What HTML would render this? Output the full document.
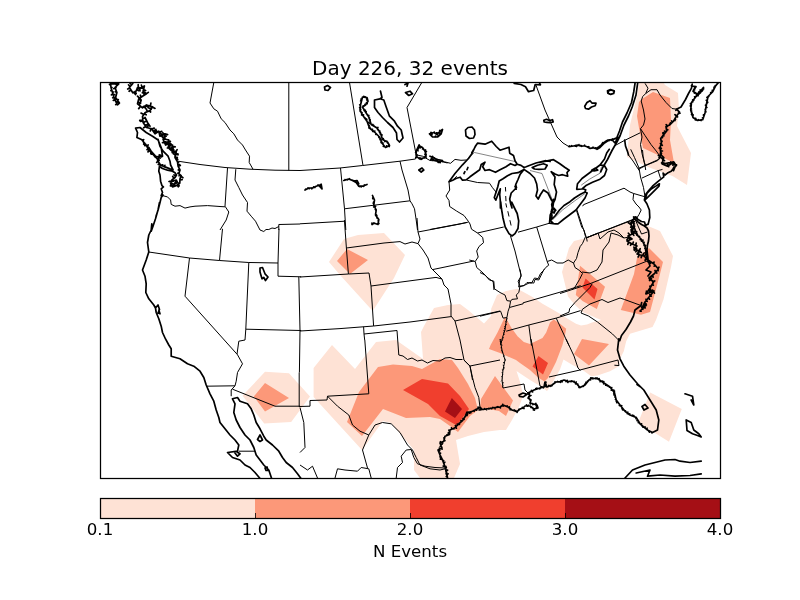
<!DOCTYPE html>
<html><head><meta charset="utf-8"><title>Day 226, 32 events</title>
<style>html,body{margin:0;padding:0;background:#fff}svg{display:block}</style></head>
<body>
<svg width="800" height="600" viewBox="0 0 800 600">
<defs><clipPath id="ax"><rect x="100.5" y="82.5" width="620" height="396"/></clipPath></defs>
<rect width="800" height="600" fill="#fff"/>
<g clip-path="url(#ax)">
<path fill="#fee2d5" d="M637,96 639,83 641,76 660,76 665,85 678,93 679,110 677,126 691,153 687,185 672.5,176 648,167 627,157 630,125Z M329,262 344,239 358,235 384,233 405,255 394,278 372.7,311 340,275Z M242.5,395.8 265,371.8 289,373.2 310,396.5 291.2,422 264.2,423.5Z M650.2,392.5 681.8,409 669,441.7 638.2,422.5Z M313.6,368 332,345 355,369 376,342 396,340 423,359 421,332 424,326 434,308 448,305 460,304 468,310 484,323.5 491,316 491.2,308.8 497,295 506,291 517.5,288.8 532.5,297 542.5,303.8 560,313.8 568,319 576,323.8 581,325.6 587,324.5 592,322.5 601,320 582.5,312 575,305 568,296.5 562,272 569,248 574,241 586,238 610,229 634,219 648,226 660,231 673,256 671,267 663.5,299.5 656,320 652.5,327 630,333.8 626.2,341.2 623.8,351.2 620,358.8 618.8,366.2 610,371.2 597.5,375.6 591.2,376.2 584,371 572.5,365 563.5,359.5 560,369.5 554,380 550,387 547,391 540,386 530,380 516.5,371 521,385 523,396 519,407 512,420 506,430 500,430 484,432 468,436 456,440 460,464 454,478 454,484 420,484 420,478 414,470 414,450 391,423 383,421 362,450 313.6,397Z"/>
<path fill="#fc9879" d="M642,99 653,92 670,98 671,120 670,140 674,163 660,156 643,148 639,128 637,116 639,102Z M337,261 347,249 368,260 350,274Z M253.8,396.5 265,383 289,398 265,411.5Z M575.8,295 580,265.8 590,274 605,286.8 596.8,309 582.5,301Z M649,248 663,262 660,274 650,312 641,314.8 620.8,310 634,274 637,258Z M574,354 582,339 609,344 589,365.6Z M505,317.5 507,320 511.2,327.5 517.5,336.2 523.8,342 530,344 542.5,338 546.2,332.5 550,322.5 553.8,319.4 560,323.8 566.2,328.8 565,335 562.5,345 556,362 552,370 548,378 544.5,381.5 538,377.5 530,370 520,363 516,360 500,353 489,349 490.6,345 497.5,332.5 504.4,318Z M495,376 513,400.5 506,416 499,411 488,409 480,408 481,399Z M378,367 393,364.4 412,366 422,369 440,359 452,360 458,368 468,384 475,398 478,410 470,416 458,432 450,426 440,419 430,417 406,418 383,409 362,436 347,422 359,392Z"/>
<path fill="#f03f2e" d="M403,390 422,379 448,383.5 460,396 469,409 457,425.5 440,416 428,404Z M582.5,287.5 585.5,278.5 597.5,289 594.5,299.5Z M532.5,366.5 538.5,356 548,363 543,374.5Z"/>
<path fill="#a50f15" d="M445,411.5 451.8,398 462,409 455,418Z"/>
<path fill="none" stroke="#333" stroke-width="0.6" d="M159.4,165.6 173.1,170.2 M466.2,160 474.5,152.5 515,161.5 M530,170.5 542,173.5 552.5,200.5 553.4,203.5 M552.7,219.7 562.5,210 574.5,201 585,193.5 M581.2,185.2 589.5,179.2 600,173.2 601.5,166.5"/>
<path fill="none" stroke="#000" stroke-width="1.0" stroke-linejoin="round" d="M178,161.2 200,164.5 225,167.5 250,169.2 275,170.2 300,170.5 M213.8,82.5 210,103 213.8,108.8 217.5,111.2 221.2,118.8 225,122.5 230,130 233.8,133.8 237.5,140 242.5,145 245.5,150 249.5,156.2 249.2,162.5 253,169.2 M288.8,82.5 288.8,170.5 M227.5,168 225,206.2 228.8,212 226.2,220 220,230 M162.5,195.6 167.5,196.9 170.6,200 171.2,204.4 175,206.2 180,205.6 185,208.1 190,206.9 195,206.2 207.5,205.6 220,206.5 M235.8,169.2 235,180 238.8,187.5 242.5,195 247.5,202.5 247,211.2 251.2,216.2 255.5,221.2 260,230 M278.8,230 278.8,224.5 300,224 M300,170.5 340,168 362.5,165.5 400,161.2 415.5,159 M349.5,82.5 363,165.5 M421.8,82.5 407,107.5 416.2,155 M415.5,159 417,155 422.5,156.2 430,160.5 440,161.2 447.5,163 M340.5,168 344.5,208.8 345.8,230 M300,223.8 345,221.2 M344.5,208.8 410,200.8 M400,161.2 402,170 405,180 408,190 410,200.8 412,203.8 414.5,208.8 416.2,220 417.5,230 M430,229.5 467,222.5 M452.7,180.2 456.8,176.2 M505.4,187 505.7,191.5 M505.7,196 506,201.2 M467,180.2 477.5,182.5 489.5,183.2 492.5,187.7 496.2,192.2 M449,181.7 449.7,190 446,196 449,200.5 449.7,206.5 456.5,211 464,215.5 468.5,221.5 M439.3,160.7 444.5,161.8 450.5,163.3 455,159.4 461,160.3 466.2,160 M219.5,206.5 225,206.8 M536,85.2 545,110 551,123.5 557,137 563,143 569,146.7 M645,83.3 648,88.2 645.7,93.5 642.7,96.5 641.2,101 643.5,110 645,119 643.5,125 640.5,128.7 M645.7,93.5 651,89.7 657,89.7 660,95 666,102.5 672,108.5 676.5,109.2 M640.5,128.7 645,135.5 651,144.5 657,152 660,156.5 M640.5,128.7 642,137 640.5,144.5 642,153.5 645,165.5 645.7,170 M614.2,146 624,140.7 640.2,132.8 M628.5,155 633,161 639.3,170.7 M638.2,168.5 657,160.2 660,158 M582.7,206.2 583.5,204.7 624,188.2 630,192 633.7,193.5 M576.7,209.2 583.5,229.5 586.5,237.7 587.2,241.5 M586.5,237.7 637.5,218.2 M633.7,193.5 633,199.5 636,204 639,207 641.2,210 639,214.5 636.7,218.2 637.5,222 M633.7,193.5 645,196.8 M645,196.8 643.5,187.5 640.5,177 639,168 634.5,157.5 630.7,149.3 M642.5,150 643.1,156.2 644.4,162.5 645.6,165.6 M639.4,168.8 645.6,165.6 657.5,160.6 661.5,156.9 M641.9,178.1 658.1,170.6 662.5,169.4 M658.1,170.6 660.6,178.5 M148.8,252 189.5,258 219.5,260.5 248.8,262.5 278,263 M189.5,258 185,296.2 237,354.2 M222.5,228.8 219.5,260.5 M248.8,262.5 245.8,329.2 245,340 238.8,341.2 237,354.2 M279,228.8 278,263 278,276.2 301.2,276.8 M245.8,329.2 301.2,330.5 M298.8,276.8 300,330.5 M344.4,220 346.4,248 348.4,274 M346.4,248 384,243 400,241.6 405,244 412,242 418,243.6 M300,277 348.4,274 369,273 371,286 373.6,326 M371,286 436,277.4 442,279 M417,218 418,232 420,239 418,243.6 423,250 428,258 431,268 436,273 442,279 444,285 448,289 451,304 451,316 455,321 460,340 464,360 470,366 472.5,380 M418,232 460,224 468.5,222 M433,269.5 473.8,261 M300,331 340,328.6 373.6,326 410,322 451,316.6 M363.6,326.8 364,334 397,330.5 398.8,355 403,356 407.5,359.5 412,358 417.5,361 422,360 427.5,363 433,360.5 440,361 445,358 450,357.5 456,359.5 462.5,359.5 M364,334 364.7,340 M455,321 500,311 M470,366 500,360 M505.8,203.3 506.7,207.5 M507.8,211.2 509,216.5 M509.9,220.2 511.1,225.5 M477.5,233 503.7,227 M510.5,236 515,251 518.7,266 521,275 519.5,281 518.7,287 M518,232.2 536.7,227 549.5,223.2 M536.7,227 547.2,261.5 M518.7,287 524,285.5 527,282.5 531.5,283.2 534.5,278 538.2,278.7 540.5,273.5 543.5,270.5 545.7,267.5 548.7,265.2 547.2,261.5 551.7,260 557,263 563,263 568.2,260 573.5,263 576.5,258.5 578,252.5 580.2,246.5 582.5,243.5 585.5,236.7 584,230 581.7,227 M576.5,210.5 581.7,227 M470,224 471.5,229.2 477.5,233 482.7,237.5 483.5,242.7 479,246.5 476.7,251 478.2,257 475.2,261.5 476.7,267.5 482,272 488,278 493.2,281.7 494,290 M469.3,260 475.2,261.5 M573.5,263 575,267.5 579.5,270.5 582.5,273.5 579.5,279.5 575,287 572,290 M480,272.5 485,275 489.4,280 493.8,281.2 494.4,288.8 500,292.5 505,295 506.9,300.6 510.6,301.2 509.4,307.5 508.1,311.2 506.9,317.5 M506.9,317.5 505.6,325 505,330 502.5,337.5 500.6,345 M506.8,318.2L507.6,318.9 M506.4,320.4L507.2,321.1 M506.1,322.3L505.5,321.4 M505.7,324.8L506.8,324.6 M505.3,327.2L504.1,326.6 M505.1,329.0L504.0,328.2 M504.8,330.6L503.3,330.8 M504.0,333.0L503.0,333.0 M503.5,334.4L504.5,334.5 M502.5,337.4L503.9,337.9 M502.2,338.9L503.1,339.3 M501.9,339.9L502.7,340.4 M501.4,341.9L500.4,341.2 M500.9,343.8L500.3,343.4 M520,269.4 521.2,276.2 518.1,281.2 520,286.2 518.8,292.5 516.2,295 517.5,298.8 511.9,299.4 510.6,301.2 M520,286.2 523.8,285.6 530,282.5 533.8,283.1 535,279.4 538.8,280 541.2,275 544,269.4 M509.4,307.5 523.1,303.8 523.1,302.8 567.5,290 575,287.5 580.6,285.6 M506.2,331.2 528.8,325 556.2,318.1 580.6,310.6 M480,316.2 500.6,311.2 503.1,318.1 506.9,317.5 M528.8,325 531.5,345.6 M556.2,318.1 569,345.6 M560,293.5 590,283.7 648.5,260.5 M560,316 569,312.2 569.7,308.5 575,302.5 582.5,295 590,287.5 592.2,283.7 M582.5,309.2 590,304 602,299.5 608,302.5 620,298 624.5,299.5 641,305.5 M582.5,309.2 581,313 588.5,316 597.5,322 605,328 612.5,334 618.8,340.3 M586,238 634,219 M586,238 598,233 600,239 608,232 614,230 619,233 624,238 629,237 M624,238 618,235 611,233 609,242 603,250 602,262 597,270 590,273 585,272.4 582,272 M635,219 641.5,234 647.5,232 M206.2,386.2 235,385.8 231.2,390 231.2,396.2 M232.5,389.2 275,406.2 300,406.2 M238.8,451.2 255,451.2 M237.2,354.2 242.5,363.8 237.5,372.5 236.2,381.2 235,385.8 M299.2,372.5 299.2,406.2 M364.8,340 368.8,393.8 327.5,396.2 M327.5,396.2 327,400 310,400.5 310,406.2 298.8,406.5 M327.5,396.2 337.5,406.2 348.8,415 352.5,425 360,431.2 368.8,435 375,425 382.5,422.5 391.2,423.8 400,432.5 407.5,445 412.5,450 416.2,457.5 420,465 430,468.8 440,470 445,468.8 447.5,477.5 M300,407.5 303.8,422.5 305,447.5 300,452.5 M300,465 307.5,470 312.5,466.2 317.5,478 M335,478 337.5,468.8 345,470 357.5,471.2 361.2,467.5 368.8,468.8 371.2,478 M368.8,435 362.5,450 367.5,468 M396.2,478 397.5,467.5 402.5,462.5 401.2,456.2 406.2,450 411.2,449.5 M411.2,449.5 413.8,457.5 417.5,463.8 425,466.2 435,467.5 445,468 M480,407.5 478.8,397.5 475,387.5 472.5,377.5 470,366.2 463.8,360 M500,339 502,350 505,360 503,370 502,380 503,388 M500.2,339.9L500.8,339.2 M500.5,342.0L499.8,341.6 M500.7,342.7L501.9,341.7 M501.1,344.8L502.4,345.2 M501.6,347.8L500.6,347.8 M502.0,349.9L501.0,350.5 M502.6,352.0L501.7,351.5 M502.8,352.7L501.9,352.4 M503.8,355.9L504.5,355.7 M503.9,356.4L503.1,356.5 M504.8,359.2L505.5,359.2 M505.0,360.1L505.8,360.2 M504.4,363.1L503.1,362.4 M503.9,365.7L502.8,365.2 M503.4,367.8L504.5,367.5 M503.1,369.3L504.4,368.7 M503.0,370.4L501.9,369.6 M502.7,372.7L501.7,372.6 M502.5,375.2L503.2,374.7 M502.3,377.2L501.3,376.5 M502.1,378.8L502.7,379.0 M502.1,380.4L501.2,381.3 M502.3,382.6L503.8,382.9 M502.6,384.7L503.4,385.2 M502.9,387.0L502.1,386.4 M503,388 524,384 525,390 528,393 M531,339 540,386 543.6,387.2 M549,377 580,370 618,360 619,365.6 614.4,365.2 M566,339 574,356 578,368 580.4,370.4 M468.5,221.5 470,224 M260,230 263.8,231.5 266,229.5 268.8,229.5 272,228 275,228.5 278.8,226.5 M300,330.5 299.4,372.5"/>
<path fill="none" stroke="#000" stroke-width="1.7" stroke-linejoin="round" stroke-linecap="round" d="M110.6,83.8 118.8,83.8 115,87.5 116.9,92.5 115.6,97.5 119.4,103.1 117.5,104.8 114.4,98.8 112.5,92.5 111,87.5Z M110.9,83.8L110.3,85.2 M113.7,83.8L113.1,82.7 M114.7,83.8L114.1,83.0 M117.1,83.8L117.3,84.9 M116.9,85.6L116.0,84.3 M115.4,87.1L116.1,87.6 M115.2,88.2L113.8,88.6 M116.2,90.8L115.6,91.4 M116.7,93.1L116.1,92.5 M115.6,97.4L114.7,97.9 M116.1,98.2L115.7,99.3 M117.4,100.1L118.3,99.6 M118.5,101.8L117.0,102.3 M119.2,103.3L118.5,102.2 M117.2,104.1L115.7,104.6 M116.4,102.6L117.3,101.7 M114.8,99.5L113.3,100.4 M113.8,96.8L112.7,97.8 M113.2,94.7L114.5,94.7 M112.9,93.7L111.4,94.9 M112.3,91.8L113.7,92.0 M111.7,89.9L110.9,90.6 M111.0,87.3L112.0,87.5 M110.6,83.9L109.5,84.2 M132.8,83.5 129.4,87.5 132.8,92.8 136.2,91 137.5,87.5 141.2,87.8 144.4,86 143.1,91.2 146.5,93.8 142.5,96.2 138.8,98.8 137.5,103.8 142.5,107.8 146.5,105 152.5,106.9 150,110.6 145.2,112.5 142.5,116.5 143.1,122.5 146.5,127.5 151.5,128.8 155,133.8 158.8,131.2 160,136.2 165,133.8 163.8,138.8 168.8,140 167.5,143.8 172.5,145 171.2,150 176.2,151.9 175,156.2 M131.7,84.8L130.0,83.2 M130.0,86.7L128.5,84.8 M129.8,88.1L127.7,89.0 M131.0,90.0L129.1,91.3 M132.7,92.7L135.4,91.5 M133.6,92.3L135.5,94.5 M135.1,91.6L136.2,93.4 M136.8,89.3L138.4,90.7 M137.1,88.7L139.2,88.7 M138.2,87.5L138.2,84.5 M139.7,87.6L140.0,91.0 M142.0,87.3L141.4,85.1 M143.8,88.2L141.0,88.1 M143.5,89.6L145.6,90.5 M143.7,91.7L142.3,92.8 M146.5,93.7L148.3,92.3 M144.6,94.9L144.3,93.3 M144.1,95.2L143.9,93.4 M141.0,97.3L140.4,95.2 M138.9,98.7L140.6,100.3 M138.7,99.1L140.2,99.8 M138.0,101.9L139.5,102.8 M138.7,104.7L140.6,103.1 M140.6,106.2L138.7,108.6 M142.3,107.6L143.4,106.5 M143.9,106.8L145.5,108.2 M146.0,105.3L148.6,107.6 M146.6,105.0L145.2,107.0 M150.3,106.2L150.9,103.2 M151.6,106.6L151.2,109.3 M152.5,106.9L155.0,108.4 M151.2,108.9L148.3,107.8 M149.4,110.9L150.6,112.0 M147.6,111.6L146.1,108.8 M144.4,113.7L146.2,114.8 M143.8,114.6L141.0,113.1 M142.7,118.3L144.7,118.0 M142.9,120.3L139.7,120.4 M142.9,120.8L140.3,121.3 M143.2,122.7L145.3,121.6 M145.3,125.7L147.6,124.3 M145.8,126.4L143.7,127.8 M147.2,127.7L148.1,125.8 M151.0,128.6L150.3,131.0 M151.8,129.1L154.2,128.1 M153.4,131.5L155.9,129.4 M154.6,133.2L156.0,131.5 M155.6,133.3L154.7,131.5 M157.4,132.1L156.4,130.6 M159.0,132.3L161.8,131.4 M159.9,135.8L162.5,135.6 M161.3,135.6L162.8,137.5 M162.3,135.1L160.6,133.4 M164.1,134.2L162.8,132.9 M165.0,133.8L167.6,134.6 M164.3,136.4L166.2,136.2 M163.9,138.8L164.6,136.6 M168.4,139.9L168.3,143.0 M168.3,141.4L170.4,141.4 M168.0,142.3L165.3,141.9 M169.1,144.1L168.2,147.3 M170.7,144.6L169.2,147.6 M172.2,146.3L175.2,146.9 M171.6,148.5L173.2,148.8 M172.4,150.4L173.0,147.6 M175.9,151.8L177.1,149.7 M175.7,153.7L177.9,154.8 M175.4,154.9L173.4,153.8 M137.5,96.2 141.2,100 140,103.8 M145,117.5 147.5,122.5 150,126.2 M162.5,156.2 161.2,147.5 158.1,140 152.5,136.2 146.2,132.5 140,127.5 135.6,128.1 137.5,132.5 136.9,137.5 142.5,140 145,145 148.8,147.5 151.2,151.2 155,155.6 M141.9,140 146.2,145 148.8,150 152.5,153.8 155.6,157.5 158.8,156.2 160.6,155.2 157.5,160 160,164.4 165,166.9 M142.7,140.9L143.7,139.6 M144.7,143.2L143.7,144.2 M145.6,144.3L144.7,145.6 M146.7,146.0L148.2,145.0 M147.7,147.8L149.2,147.9 M148.5,149.5L147.0,149.6 M149.2,150.5L148.0,151.9 M151.6,152.9L150.8,153.3 M152.6,153.9L151.3,154.2 M155.3,157.2L155.9,156.3 M156.2,157.3L157.1,158.8 M160.3,155.4L161.7,156.8 M160.2,155.9L159.3,154.9 M159.2,157.4L160.3,158.1 M157.8,159.5L159.2,160.1 M158.1,161.1L156.7,162.4 M159.5,163.4L158.3,164.5 M160.5,164.6L159.9,166.0 M161.9,165.3L162.8,164.8 M164.4,166.6L164.9,165.3 M165,166.9 170,168.8 173.1,169.8 170.6,165 170,161.2 168.1,156.2 163.1,151.2 160,146.2 158.1,139.4 M163.1,139.4 165.6,145 170,143.1 169.4,148.8 173.8,152.5 176.2,151.9 175,157.5 177.5,161.9 178.1,166.2 180,170 178.8,173.8 181.2,175.6 180,178.8 179.8,183.1 176.2,185.6 172.5,186.9 170.6,183.8 171.9,180 175,177.5 176.5,175 M163.2,139.4L165.0,137.9 M164.4,142.3L162.5,142.6 M165.2,144.0L166.7,142.9 M166.8,144.5L166.3,142.6 M168.1,143.9L168.0,142.4 M169.9,144.4L171.3,144.1 M169.7,145.6L168.5,146.0 M169.4,148.2L167.3,148.0 M169.7,149.1L171.6,147.8 M172.1,151.1L173.8,149.8 M173.4,152.2L172.2,152.6 M176.2,151.9L176.4,150.6 M175.8,153.7L178.1,154.2 M175.8,154.1L178.1,154.3 M175.2,156.7L177.3,157.9 M175.8,158.9L177.2,157.3 M176.4,160.0L177.7,159.5 M177.7,163.0L178.6,162.2 M177.9,164.6L179.6,164.7 M178.2,166.3L180.3,165.4 M179.7,169.3L178.6,169.7 M179.9,170.4L178.3,169.9 M178.8,173.5L177.9,173.1 M180.1,174.7L179.1,175.8 M181.0,176.3L182.9,177.7 M179.9,179.9L182.2,179.7 M179.8,182.7L178.5,183.2 M178.6,183.9L179.1,185.9 M177.2,185.0L178.3,186.8 M174.7,186.1L174.3,184.9 M173.3,186.6L172.8,185.2 M171.7,185.6L170.4,185.8 M170.9,184.3L172.6,183.5 M171.2,181.9L169.0,181.5 M171.4,181.6L170.0,181.3 M172.1,179.8L173.5,181.1 M173.9,178.4L172.7,176.4 M175.6,176.4L174.0,174.9 M176.5,175 175,172.8 172.5,171.2 167.5,170.2 162.5,168.5 159.4,166.5 158.8,171.2 160,175 160.6,181.2 161.9,185.6 163.4,186.9 161.2,188.8 162.5,192.5 161.2,195.6 163.1,195 161.2,197.5 160,202.5 158.1,210 156,216.2 M172.5,181.2 176.2,180 177.5,182.5 173.8,184.4 175.6,181.9 M374.5,100 380,98.8 383.8,100 386.2,107 389.5,116.2 394.5,121.2 397.5,126.2 401.2,130 403,138 399.5,142 397,139.5 396.5,133 393,127.5 387.5,122.5 382.5,117.5 378,112.5 374.5,107.5Z M380.5,91.2 382,97.5 380,98.8 M362.5,97 367,97.5 368,101.2 365.5,105 362.5,107 365.5,112 368.8,117 371.2,124.5 377,128 380.5,133 382.5,139.5 387.5,142 389.5,145.5 385.5,147.5 382.5,143.8 379.5,137 374.5,132 369.5,128 367,121.2 362.5,115 360,110 360.5,105Z M364.3,97.2L363.9,96.3 M364.9,97.3L365.4,96.9 M367.3,98.4L366.7,99.1 M367.9,100.7L367.1,100.4 M366.9,102.9L367.2,103.6 M366.4,103.7L366.4,102.8 M364.9,105.4L365.0,104.3 M363.3,106.5L363.2,105.8 M363.0,107.8L362.4,107.7 M364.4,110.1L364.1,110.6 M365.1,111.3L365.4,110.2 M365.9,112.6L366.2,111.9 M367.5,115.1L368.3,115.5 M368.3,116.2L368.8,115.5 M369.0,117.9L369.5,117.9 M370.0,120.7L370.2,119.9 M370.1,121.1L369.6,120.8 M370.9,123.5L369.8,123.1 M372.2,125.1L372.9,124.5 M373.5,125.9L373.8,125.4 M376.8,127.9L377.9,127.5 M377.7,129.1L377.6,129.6 M379.1,131.0L379.9,131.0 M380.3,132.6L379.5,132.5 M380.7,133.5L380.2,133.9 M381.4,135.8L382.0,135.0 M382.4,139.3L383.2,138.6 M382.6,139.6L383.5,139.3 M385.4,140.9L384.9,141.5 M386.9,141.7L386.8,141.0 M387.7,142.4L387.4,142.8 M388.9,144.4L388.7,145.2 M388.5,146.0L389.3,146.6 M387.0,146.8L386.7,145.9 M384.4,146.1L383.3,146.3 M382.8,144.1L383.0,143.1 M382.1,142.8L381.4,142.8 M381.6,141.7L380.9,142.1 M380.7,139.7L380.0,139.6 M380.1,138.3L379.5,138.0 M378.8,136.3L378.9,137.3 M376.5,134.0L375.8,134.4 M374.5,132.0L374.8,131.0 M372.9,130.7L372.7,131.4 M372.0,130.0L372.4,129.3 M369.6,128.1L369.9,127.2 M369.1,127.0L368.9,127.9 M368.4,125.1L369.2,125.3 M367.8,123.3L368.5,122.5 M366.5,120.6L366.8,119.5 M365.7,119.5L366.5,119.0 M364.5,117.8L365.2,118.1 M363.2,116.0L363.5,114.9 M362.5,114.9L361.6,114.9 M361.4,112.8L362.0,112.6 M360.6,111.2L360.2,111.3 M360.1,108.9L360.7,109.6 M360.3,107.1L359.7,107.7 M360.7,104.3L359.7,104.9 M361.4,101.3L360.6,101.0 M361.7,100.3L361.0,100.6 M362.0,98.8L361.0,99.0 M324.5,87 327.5,85.5 330.5,87.5 328,90.5 325,90Z M405.5,92.5 410,91.2 412.5,93.8 408.8,95.5Z M405,84.5 408,83 407,86.2 M416.2,151.2 418.8,145.5 422.5,147.5 425,151.2 426.2,155 423.8,158 419.5,158.8 416.2,156.2Z M417.0,149.6L418.0,150.8 M417.2,149.0L418.3,148.9 M418.0,147.2L419.4,147.3 M419.0,145.6L419.1,144.8 M421.1,146.8L420.1,147.8 M423.6,149.1L422.5,149.0 M424.8,151.0L425.5,149.9 M425.3,152.2L426.4,151.5 M426.1,154.6L424.9,154.2 M425.5,155.9L426.2,157.1 M424.2,157.5L424.7,157.9 M422.6,158.2L421.9,159.1 M420.8,158.5L421.0,159.4 M419.3,158.6L419.9,157.7 M416.7,156.6L415.8,157.6 M416.2,155.4L417.1,155.0 M416.2,152.0L415.6,152.4 M429.5,133.8 433.8,132.5 437,134.5 440,131.2 442.5,129.5 441.2,133.8 437.5,137 432.5,137 429.5,133.8 M431.2,133.2L432.2,134.0 M431.7,133.1L431.0,132.4 M434.2,132.8L434.3,132.0 M436.2,134.0L436.4,132.9 M437.4,134.1L437.2,132.9 M438.7,132.7L439.9,132.8 M440.1,131.2L439.7,130.4 M441.9,131.4L441.0,130.8 M441.3,133.5L440.1,133.8 M440.0,134.8L439.9,133.7 M438.9,135.8L438.1,135.3 M436.0,137.0L435.8,136.4 M435.0,137.0L435.5,136.1 M431.2,135.6L431.7,135.4 M429.9,134.2L430.4,133.9 M430,156.2 433.8,158 437.5,159.5 442.5,160.5 440,162 435,160.5 431.2,158.8 M431.7,157.1L432.5,156.4 M432.9,157.6L433.5,157.3 M434.0,158.1L434.4,157.8 M437.1,159.4L436.1,159.8 M437.9,159.6L437.5,160.1 M442.4,160.5L442.6,161.5 M440.4,161.8L440.1,162.7 M438.0,161.4L438.4,162.4 M437.2,161.2L437.6,161.8 M433.8,160.0L432.8,160.3 M431.6,158.9L430.9,159.6 M418.8,170 422,168 423.8,170 421.2,172Z M305,190 308.8,188 312.5,188 316.2,186.2 321.2,184.5 322,188.8 319.5,186.2 M305.4,189.8L305.6,189.2 M308.4,188.2L307.9,188.0 M309.2,188.0L309.3,188.7 M311.2,188.0L311.8,188.8 M313.4,187.6L313.6,186.9 M315.1,186.8L314.9,187.5 M317.7,185.7L318.0,185.0 M320.8,184.6L321.1,184.2 M321.5,185.8L320.9,185.8 M321.9,188.2L321.2,187.9 M319.6,186.4L319.5,185.7 M343.8,180.5 348.8,179 352.5,180.5 356.2,182.5 358.8,186.2 362.5,186.2 367,184.5 M345.3,180.0L345.1,179.6 M347.0,179.5L347.6,179.9 M350.0,179.5L349.5,178.7 M352.3,180.4L352.2,180.0 M353.1,180.8L353.6,180.7 M354.4,181.5L354.6,180.9 M356.5,182.9L357.3,182.9 M358.6,186.1L359.1,186.1 M360.1,186.2L359.4,186.6 M361.1,186.2L361.2,186.9 M363.5,185.9L363.7,186.3 M364.9,185.3L364.3,184.9 M353.8,181.2 357,180.5 358.8,183.8 M372.5,195.5 374.5,200 373.8,205 376.2,210 375.5,215 378.8,219.5 378,224.5 373.8,223 372,224.5 M373.5,197.7L372.8,198.7 M373.6,197.9L372.7,197.9 M374.1,202.5L373.7,202.0 M374.0,203.7L373.2,203.1 M374.5,206.6L373.7,206.9 M374.6,206.8L375.6,206.2 M376.2,209.8L375.7,210.1 M376.2,210.1L375.3,209.3 M375.6,214.0L376.3,214.8 M376.3,216.2L376.8,215.5 M376.9,217.0L377.0,217.9 M378.1,218.6L377.3,218.5 M378.5,221.3L378.1,220.8 M378.1,224.0L378.9,223.5 M376.8,224.1L377.6,223.6 M374.1,223.1L373.6,223.6 M372.7,223.9L371.8,223.2 M449,181.7 455,173.5 462.5,164.8 468.5,158.5 472.2,153.2 475.2,146.5 477.5,143.2 485,144.2 491.7,141.2 496.2,146.5 500,150.2 509,147.2 509.7,153.2 513.5,155.5 515,160.7 517.2,164.2 515,165.5 510.5,163.7 506,166.7 500,169.7 495.5,172.3 489.5,169.7 485,170.5 482.7,166.7 485,162.2 481.2,164.5 479.7,169.7 474.5,173.5 470,176.8 466.2,179.8 462.5,180.2 460.2,177.2 456.5,178.3 452.7,180.2Z M471.8,152.8 474.2,148.7 476,145.4 M467,169.7 467.9,167.5 M464,173.5 464.9,171.7 M465.5,130 468,127.5 472,127 474.5,130 475,134.5 473.5,138 469.5,138.5 466,136Z M517.2,164.2 521,165.4 524,167.5 526.2,166.7 530,165.2 536,163 545,160.7 550.2,161.5 M532.2,167.5 537.5,165.2 543.5,163.7 547.2,165.2 545,169 539,169.3 534.5,169Z M524,169.4 518,172.7 512,173.5 507.5,175.7 503,178.7 499.2,181 497.7,187 495.8,193 494.3,197.5 495.8,200.2 497.7,195.2 500.3,188.8 499.7,194.5 500.3,200.5 500.4,208 M524,169.4 520.2,174.2 518,179.5 515.7,184.7 516.5,187.7 514.2,190 511.2,193 509.7,199 510.8,204.2 512,208 M515,186.2 516.2,189.2 M524,169.4 530,173.5 534.5,178 536.7,184 537.5,190 536,196 538.2,199 540.5,194.5 543.5,190 548,193 551.7,200.5 M159.5,202.5 158,210 155.5,218.8 153,226.2 151.2,231.2 M514.2,83.3 521,84.5 525.5,86.7 528.5,91.7 533.7,90.5 535.2,84.5 540.5,84.8 539.3,82.7 M569,146.7 573.5,146 578,145.2 581.7,146.3 584,145.7 587,146.7 590,148.4 593,147.8 596,148.7 599,146.7 602,144.5 605,141.8 608,140 611.7,139.7 614,139.2 M570.2,146.6L569.3,146.0 M572.1,146.2L571.4,145.7 M575.3,145.7L575.4,146.2 M576.2,145.5L576.6,146.4 M578.9,145.5L579.0,144.7 M580.2,145.9L580.9,145.4 M581.9,146.3L581.1,145.7 M584.3,145.8L584.6,145.2 M587.7,147.2L588.8,146.7 M592.7,147.9L592.7,147.3 M593.1,147.8L593.6,147.4 M596.1,148.7L595.8,147.8 M599.3,146.5L599.8,147.3 M601.3,145.0L601.6,145.7 M602.4,144.2L602.1,143.6 M603.9,142.8L602.8,142.6 M605.4,141.5L605.7,142.1 M609.3,139.9L609.0,140.5 M611.7,139.7L611.5,140.3 M612.0,139.6L612.5,138.9 M543.8,120.2 546.5,119.3 549.5,120.5 552.5,119.7 553.2,122 550.2,122.7 546.8,122.3 544.2,122Z M584.7,106.2 587,102.5 590,100.7 592.2,103.2 596,103.2 595.2,105.8 591.5,107 588.5,109.2 585.5,108.5Z M608,91.2 611,89.9 614.3,91.2 613.7,93.5 610.7,94.4 608.3,93.2Z M635.2,82.2 633.7,92 631.5,102.5 627,113 622.5,122 619.5,131 616.5,138.5 609,140 604.5,143 600,147.5 597,149.3 M637.8,82.2 636,95 632.2,107 628.5,116 624,125 620.2,135.5 617.2,141.5 612,150.5 607.5,159.5 603,167 600.7,171.8 M612,139.7 618,137.3 615,143 612,139.7 M607.5,90.8 610.5,89.6 614.2,90.8 613.8,93.2 610.5,94.4 607.8,93.2Z M624.7,140 625.5,146 627.7,152 628.5,155 M676.5,109.2 679.5,112.2 676.5,116 673.5,121.2 669.7,125 666,126.5 666.7,131 663,135.5 660.7,138.5 661.5,143 660,147.5 660.7,152 660,156.5 663,159.5 662.2,164 667.5,166.2 672,163.2 675.7,165.5 673.5,170.7 M676.6,109.3L675.9,110.4 M679.3,112.0L678.5,113.1 M679.4,112.3L679.9,113.3 M676.9,115.5L677.5,116.9 M676.4,116.1L675.0,114.7 M674.9,118.9L675.5,119.4 M674.3,119.8L674.9,120.6 M672.6,122.2L671.6,121.0 M671.5,123.3L670.4,122.9 M669.4,125.1L669.6,124.1 M667.5,125.9L666.2,124.6 M666.1,127.0L667.3,126.5 M666.5,129.3L667.8,129.8 M665.9,132.0L664.6,131.1 M664.6,133.6L663.5,132.7 M663.6,134.7L662.8,133.0 M662.8,135.8L663.9,135.8 M661.5,137.5L662.5,137.6 M661.1,140.7L662.1,141.2 M661.5,143.0L660.4,143.6 M661.0,144.4L662.3,145.3 M660.1,147.3L661.3,148.4 M660.1,148.1L659.2,148.2 M660.6,151.1L662.5,151.0 M660.7,152.4L661.5,153.3 M660.0,156.3L658.4,155.5 M660.2,156.7L659.1,157.7 M662.5,159.0L663.1,157.4 M663.0,159.8L664.5,160.7 M662.3,163.8L661.6,163.0 M664.0,164.7L664.2,163.0 M664.2,164.8L665.1,164.2 M666.8,165.9L667.8,164.3 M667.7,166.1L668.7,166.7 M670.1,164.5L670.0,163.6 M671.2,163.8L670.6,162.0 M673.5,164.2L672.9,165.2 M675.6,165.4L676.6,165.0 M675.1,166.9L673.8,167.1 M674.9,167.4L673.6,167.7 M674.1,169.3L672.5,169.5 M676.5,109.2 681,107 685.5,99.5 688.5,93.5 691.5,88.2 692.2,84.2 M691.5,86 696,86.7 693,91.2 697.5,94.2 703.5,87.5 700.5,92.7 696,96.5 691.5,102.5 690.7,110 693,117.5 697.5,120.5 702.7,119.7 705,113 706.5,104 708,96.5 712.5,92 715.5,86 718.8,82.2 M691.8,86.0L691.5,85.4 M695.1,86.6L694.5,87.1 M695.9,87.0L695.4,86.8 M694.0,89.7L693.7,89.4 M693.9,89.9L694.6,90.0 M693.1,91.3L693.5,90.9 M694.5,92.3L694.4,93.2 M696.9,93.9L696.2,94.0 M698.0,93.6L697.7,93.4 M699.3,92.3L698.8,92.0 M701.0,90.4L700.1,90.0 M701.7,89.5L702.7,89.8 M703.1,87.9L703.1,88.7 M703.3,87.8L703.6,88.9 M702.1,89.9L702.6,90.4 M701.3,91.3L702.0,91.2 M700.5,92.8L699.5,92.4 M698.1,94.7L698.1,95.7 M697.0,95.7L696.4,95.1 M695.0,97.8L694.6,96.8 M693.8,99.4L693.7,100.3 M692.8,100.8L692.7,99.8 M692.0,101.8L692.8,101.8 M691.3,104.1L690.4,103.6 M691.3,104.9L690.5,105.5 M691.1,106.6L690.4,106.1 M690.9,108.8L691.4,109.1 M691.0,110.8L691.6,111.1 M691.6,112.9L692.2,113.3 M691.9,114.0L691.5,114.6 M692.5,115.9L693.2,114.9 M693.1,117.5L693.0,116.8 M694.9,118.7L695.8,118.3 M696.2,119.6L695.3,119.8 M697.9,120.4L698.4,119.6 M700.4,120.1L701.1,120.5 M703.3,118.1L702.5,117.8 M704.1,115.8L703.5,115.4 M704.5,114.6L703.5,114.8 M705.1,112.3L706.0,111.8 M705.5,110.1L705.2,109.3 M705.9,107.7L706.9,107.5 M706.0,107.1L706.5,107.2 M706.3,105.4L705.5,105.2 M706.6,103.4L707.5,102.8 M707.0,101.7L707.7,102.2 M707.3,100.2L706.3,100.3 M707.7,98.2L706.9,97.3 M708.4,96.1L708.8,96.5 M710.8,93.7L710.7,92.6 M712.4,92.1L712.1,91.7 M712.8,91.4L712.3,90.3 M714.3,88.3L713.9,88.0 M714.5,87.9L714.2,87.1 M716.1,85.3L715.2,85.5 M717.8,83.4L717.0,82.8 M539.3,162.3 546,161.2 553.5,159.7 559.5,163.5 564.7,167.2 569.2,170.2 567,172.5 567.7,176.2 562.5,174.7 558.7,175.5 555,174 551.2,171.7 555,177 554.2,184.5 556.5,192 555,199.5 553.5,202.5 M551.2,199.5 553.5,202.5 552.7,208.5 551.2,211.5 552,216 550.5,220.5 M552,209.2 555,210 554.2,213 552,212.2Z M550.5,220.5 555,216 559.5,210 564,205.5 570,201.7 574.5,198 580.5,194.2 585,192 587.2,193 585,198 580.5,204 576,210 570,214.5 564,219 558,223.8 553.5,223.5Z M576.7,189.3 577.5,183.7 582,178.5 588,174 594,169.5 600,165 604.5,165.7 606.7,169.5 604.5,175.5 600,179.2 592.5,182.2 586.5,185.2 582,189Z M585,192 585.7,189.7 582.7,188.7 M600,165 604.5,159 606.7,153 609.3,149.3 M591.7,170.2 595.5,168 597.7,170.2 594,171 M660.6,149.4 661.2,155 663.8,157.5 662.5,161.9 663.8,163.8 670,162.5 673.8,161.9 676.2,165.6 673.1,168.8 671.2,171.2 667.5,173.1 665,175 663.1,173.1 663.8,176.9 660.6,179.4 657.5,181.9 652.5,186.2 648.1,191.2 645.6,194.4 644.4,200 M646.9,193.5 651.2,189 656.2,185.9 659.4,183.8 659,186.2 656.2,188.8 651.2,193.8 646.9,198.1 645,199.8Z M644.4,200 646.9,203.8 649.4,210 649.8,217.5 648.1,224.4 M151.8,223.8 151.2,230 148.8,235 147.5,242.5 148.8,252 146.2,260 142.5,270 145,276.2 146.2,283.8 145.8,292.5 148.8,298.8 153.8,305 155.5,308 156.2,312.5 158.8,318.8 161.2,326.2 162.5,332.5 165.5,339 M155.5,308 158,305 159.5,309.5 158,313 160,313.8 158.8,310 M260,268 262.5,267.5 265,273.8 268,277 265.5,280.5 263.8,277.5 262,278.8 260,272Z M500.7,201.8 501.5,209 503,218 505.2,227 509,233.7 512,236 515,233.7 518,228.5 518.7,221 517.2,213.5 513.5,206 511.7,202.2 M549.5,223.2 550.2,215 552.5,209.7 551.7,204.5 553.5,199.3 M551.7,209.3 554,208.2 555.8,210.2 554,212.3 551.9,211.7Z M549.5,223.2 555.5,224 M641.7,302.5 641,305.5 635,310 633.5,316 630.5,322 626,329.5 621.5,335.5 619.7,340.7 M648,224 645.5,225.5 644.5,222 641.5,221.5 638,219.5 636,217 634.5,218 M635,219 638,222 641.5,224.5 644.5,226 647,228 648.5,231 649,236 648.5,241 647.5,245 647,250 648,259 M633.5,221 634,227 636,232 638,236 641,239 643,242 645,246 646,252 648,259 M633.5,221.3L632.9,221.6 M633.7,224.0L634.4,223.8 M633.9,225.6L634.6,226.2 M634.1,227.2L634.6,226.2 M635.8,231.5L636.7,231.8 M636.3,232.5L635.7,233.5 M637.2,234.3L636.8,235.1 M638.8,236.8L639.5,236.4 M640.7,238.7L640.2,239.6 M641.8,240.3L641.4,241.0 M642.3,240.9L643.0,240.1 M643.0,242.1L644.1,242.3 M644.5,245.1L644.1,245.3 M645.1,246.5L645.5,245.6 M645.4,248.5L644.9,248.4 M645.7,250.4L646.7,250.8 M646.2,252.6L645.1,252.6 M646.5,253.8L647.3,253.7 M647.5,257.2L646.6,256.7 M647.7,258.0L647.0,258.7 M635,217 630,224 633,227 631,230 634.4,233 628,236 632,239 627,241 632,244 637,246 634,249 640,251 637,254 644,256 648,260 M634.3,218.0L633.6,217.0 M633.7,218.9L634.9,219.3 M632.3,220.8L634.4,221.6 M630.2,223.8L628.3,222.7 M630.8,224.8L632.2,222.8 M631.7,225.7L630.7,227.2 M632.5,227.7L634.7,228.7 M631.2,229.8L632.6,230.5 M631.5,230.4L632.9,229.4 M633.1,231.9L634.7,231.2 M632.8,233.7L633.8,235.4 M632.2,234.0L631.3,231.6 M630.0,235.1L628.4,233.2 M628.7,236.5L628.0,238.2 M630.3,237.7L629.5,240.0 M629.6,240.0L629.5,238.0 M627.3,240.9L627.0,239.3 M628.6,242.0L627.8,244.4 M629.1,242.3L628.5,243.3 M631.3,243.6L630.6,245.3 M632.7,244.3L633.3,242.0 M635.7,245.5L636.2,243.0 M635.6,247.4L636.6,248.5 M634.7,248.3L633.8,247.1 M634.2,249.1L634.4,250.4 M637.0,250.0L635.8,251.9 M639.3,250.8L640.2,248.7 M639.5,251.5L641.3,252.5 M638.1,252.9L639.2,254.4 M638.0,254.3L638.1,251.9 M639.4,254.7L638.1,257.0 M641.6,255.3L641.2,257.6 M642.6,255.6L643.7,253.3 M644.4,256.4L645.8,254.1 M646.4,258.4L645.5,259.2 M647.0,259.0L645.1,260.3 M648,260 654,264 658.4,269 654,274 649,278 653.6,282 650,288 646,294 654,291 645,302 642,308 646.4,305 640,311 M648.3,260.2L647.7,261.7 M650.5,261.7L649.9,262.3 M651.3,262.2L650.2,263.4 M653.4,263.6L654.0,262.1 M655.2,265.3L654.2,266.2 M655.5,265.7L654.3,266.0 M657.9,268.5L658.9,267.2 M657.8,269.7L658.2,270.7 M655.7,272.1L655.0,270.5 M655.4,272.4L656.8,273.0 M652.6,275.1L653.1,277.1 M651.5,276.0L652.4,276.6 M649.7,277.4L651.5,278.4 M649.9,278.8L649.5,280.1 M650.6,279.4L649.8,280.5 M653.2,281.6L654.7,280.9 M653.1,282.8L652.8,281.7 M652.2,284.3L653.3,285.2 M650.4,287.3L649.9,286.2 M649.6,288.6L650.5,289.2 M648.3,290.6L649.3,290.6 M647.2,292.2L646.4,291.2 M646.9,292.7L646.5,291.5 M646.1,294.0L645.9,293.0 M649.7,292.6L649.9,291.0 M651.8,291.8L650.9,290.1 M652.8,291.4L652.6,290.2 M653.5,291.6L654.5,293.1 M652.3,293.0L651.2,291.4 M650.8,294.9L649.8,294.7 M649.9,296.0L651.3,296.2 M648.5,297.8L649.5,299.2 M646.5,300.2L646.0,299.3 M645.8,301.0L647.2,301.3 M644.5,303.1L646.0,303.8 M643.7,304.5L644.9,305.2 M642.0,308.0L642.9,309.3 M642.4,307.7L643.1,308.3 M644.5,306.3L645.1,307.9 M645.9,305.5L644.1,304.6 M643.8,307.5L642.8,306.2 M642.6,308.5L641.7,307.2 M640.3,310.7L641.1,311.2 M648,260 650,266 646,270 651,272 648,276 M165.5,338.8 168.8,345 171.2,348.8 171.2,356.2 180,358.8 187.5,363.8 193.8,366.2 200,371.2 203.8,377.5 206.2,385 210,393.8 213.8,401.2 216.2,410 218.8,417.5 220,422.5 225,428.8 230,435 235,440 238.8,445 237.5,451.2 227.5,452.5 232.5,457.5 240,460 245,465 250,467.5 255,472.5 260.5,479 M232.5,398.8 235,403.8 233.8,412.5 236.2,420 240,427.5 245,435 250,440 253.8,447.5 256.2,455 260,460 263.8,465 268.8,470 271.8,479 M232.5,398.8 237.5,397.5 240,401.2 247.5,403.8 251.2,408.8 253.8,415 256.2,422.5 260,428.8 263.8,436.2 266.2,440 272.5,445 278.8,451.2 282.5,457.5 286.2,462.5 292.5,467.5 297.5,473.8 301.2,478.8 M257.5,439.5 260,435 262.5,440 260,441.5Z M265,468 267,467 268,470.5 266,470.5Z M235,453 237.5,456.2 240,453.8 237,452 M447.5,478 446.2,470 442.5,460 440,455 438,450 442,448 440,443 443.8,441.2 445,436.2 449.5,434.5 450,430 454.5,428 458.8,423.8 462.5,420.5 466.2,415 468,412.5 472.5,411.2 475,410 480,407.5 M447.3,477.0L446.3,476.4 M447.0,474.7L448.1,473.8 M446.8,473.4L446.0,473.9 M446.3,470.2L447.6,470.1 M445.7,468.5L446.3,467.4 M445.2,467.3L445.9,466.4 M444.7,465.8L443.2,466.1 M443.8,463.4L444.8,462.2 M442.7,460.6L443.7,460.5 M442.1,459.2L440.4,459.2 M441.4,457.9L440.5,457.6 M440.7,456.4L440.0,456.7 M439.4,453.5L440.5,453.1 M438.7,451.7L439.7,450.7 M439.7,449.2L439.4,448.1 M441.3,448.4L442.1,449.1 M441.3,446.2L440.2,446.3 M440.6,444.5L442.1,444.2 M441.2,442.4L440.4,441.7 M442.1,442.0L442.7,443.1 M444.1,439.9L444.9,440.6 M444.5,438.2L443.9,437.9 M446.7,435.6L446.9,434.8 M448.5,434.9L448.3,433.6 M449.6,433.5L448.4,432.5 M449.9,430.7L448.9,430.2 M451.9,429.2L451.5,427.8 M453.7,428.3L453.9,429.0 M455.6,426.9L456.4,428.2 M456.2,426.3L455.4,425.5 M458.2,424.3L457.2,424.2 M459.2,423.4L459.4,424.3 M461.7,421.2L461.0,420.6 M463.5,419.0L464.1,419.4 M464.0,418.3L463.0,418.6 M466.2,415.0L467.0,415.5 M466.7,414.3L467.5,414.5 M468.3,412.4L469.3,413.2 M470.3,411.9L471.0,412.6 M473.7,410.6L474.2,411.3 M475.6,409.7L476.6,410.1 M478.2,408.4L478.1,407.1 M480.0,407.5L480.8,408.1 M465.5,415.5 467,412 470,413 M479,410 486,409 492,408 500,407 503,405 508,407 512,410 517,411.6 520,409 523,408 525,406 530,406 534,409 538,408 537,405 530,403 531,400 528,398 530,396 528,393 M480.2,409.8L480.1,409.3 M481.8,409.6L481.7,408.7 M484.0,409.3L484.5,408.6 M486.1,409.0L486.6,409.7 M488.7,408.5L489.0,409.0 M490.9,408.2L491.7,408.7 M492.2,408.0L492.9,407.3 M495.0,407.6L495.1,408.8 M497.3,407.3L497.1,406.8 M498.6,407.2L497.9,406.7 M500.3,406.8L500.4,407.9 M502.5,405.3L502.7,404.4 M503.0,405.0L503.1,406.1 M506.4,406.4L507.1,405.8 M508.6,407.5L509.4,407.0 M510.8,409.1L510.0,409.8 M513.8,410.6L514.2,410.0 M515.9,411.2L515.8,410.6 M517.3,411.4L517.1,412.3 M518.7,410.2L518.8,409.3 M522.8,408.1L522.3,407.4 M523.4,407.6L524.0,408.6 M527.2,406.0L526.5,404.9 M527.9,406.0L528.3,405.3 M531.6,407.2L531.0,407.4 M533.6,408.7L533.4,409.9 M534.2,409.0L534.4,410.1 M537.0,408.3L536.3,407.4 M537.4,406.2L536.6,405.9 M536.4,404.8L536.1,405.4 M535.0,404.4L535.9,403.4 M532.6,403.7L533.0,404.5 M530.3,403.1L530.3,404.0 M530.9,400.3L530.3,400.3 M530.7,399.8L529.9,399.9 M528.5,398.3L528.8,397.5 M529.3,396.7L528.7,396.5 M529.6,395.4L531.0,395.5 M528.2,393.4L529.5,393.4 M519,395 523,393 527,394.4 523,397 519.6,396.4Z M528,393 534,390 540,388 544,387 545,382 547,387 552,385 556,382 560,381.6 564,380 568,381.6 572,381 576,383 580,387.6 585,385 589,380 592,378 598,379 604,383 610,387 614,392 M528.4,392.8L529.0,393.2 M531.6,391.2L532.6,391.9 M532.1,391.0L531.3,390.4 M535.7,389.4L535.7,388.7 M537.0,389.0L536.9,388.0 M539.8,388.1L539.8,388.8 M541.0,387.8L540.7,387.2 M543.9,387.0L543.3,387.8 M544.2,386.1L544.9,385.9 M544.9,382.4L546.0,382.1 M545.7,383.9L545.3,384.7 M546.4,385.6L545.9,386.6 M549.5,386.0L548.9,385.4 M550.0,385.8L550.9,386.4 M552.4,384.7L552.1,385.5 M555.4,382.4L555.1,381.8 M556.8,381.9L557.6,381.4 M559.8,381.6L560.4,382.3 M561.1,381.1L561.0,380.7 M562.4,380.6L562.1,381.9 M565.7,380.7L566.0,381.5 M566.4,381.0L567.2,380.3 M568.2,381.6L567.9,382.5 M571.4,381.1L571.1,381.7 M573.9,381.9L574.1,381.3 M575.5,382.7L576.2,382.0 M576.2,383.2L575.5,383.8 M577.9,385.1L577.8,384.2 M579.3,386.8L579.0,387.4 M580.5,387.4L579.4,386.8 M582.5,386.3L583.3,386.4 M584.4,385.3L584.8,384.5 M585.7,384.1L585.2,383.7 M586.8,382.8L586.0,382.2 M588.4,380.8L587.6,381.0 M590.2,379.2L590.5,379.8 M591.7,378.2L590.7,377.9 M592.8,378.1L592.9,379.0 M595.4,378.6L596.0,377.9 M597.7,378.9L597.4,378.1 M598.2,379.1L599.2,378.7 M600.5,380.7L600.1,381.6 M602.4,382.0L602.5,381.2 M603.6,382.7L603.8,381.6 M604.1,383.1L603.6,383.8 M605.7,384.1L605.7,385.2 M607.1,385.1L607.4,385.9 M609.2,386.4L609.3,387.1 M611.3,388.6L611.7,387.6 M612.6,390.2L611.3,390.2 M613.4,391.2L614.5,391.1 M613.8,390 616.2,400 620,405 625,411.2 630,415 636.2,417.5 640,423.8 647.5,430 652.5,432.5 M613.8,390.1L612.8,390.7 M614.5,393.1L613.7,393.1 M614.9,394.7L613.9,394.9 M615.3,396.1L614.9,397.0 M616.0,399.0L615.5,399.5 M617.2,401.2L616.3,401.4 M617.7,401.9L616.8,402.7 M619.8,404.7L619.4,405.5 M621.0,406.2L621.7,405.6 M622.1,407.6L622.0,408.6 M623.5,409.4L622.6,409.9 M624.7,410.9L625.5,410.8 M626.6,412.5L627.8,412.2 M628.0,413.5L627.4,413.7 M629.1,414.4L629.8,413.9 M631.9,415.8L632.7,415.2 M633.0,416.2L633.8,415.6 M636.1,417.4L636.0,418.6 M636.8,418.4L636.3,418.6 M637.7,419.9L637.1,420.4 M638.2,420.8L637.1,420.6 M639.3,422.7L638.3,422.6 M640.6,424.3L641.6,423.9 M642.6,425.9L642.2,426.2 M643.4,426.6L642.9,427.1 M645.1,428.0L645.1,426.9 M646.4,429.1L647.1,428.2 M648.5,430.5L648.6,431.2 M650.2,431.3L649.4,432.1 M651.7,432.1L652.0,432.8 M652.5,432.5 657.5,430 658.8,420 656.2,410 650,400 643.8,390 637.5,383.8 630,375 623.8,366.2 620,358.8 617.5,350 618.8,338.8 M642,406.5 645,404.5 648,408 644,410Z M637,384.5 640,386.5 M685,393.8 692.5,396.2 693.8,405 691.2,400 M686.2,420 691.2,422.5 693.8,430 698.8,433.8 701.2,437 697.5,435.5 692.5,433.8 687,430.5 686.2,420 M625,478 632.5,470 645,465 655,462.5 665,460 675,459.5 680,461.2 690,462.5 701.2,461.2 M636.2,473 650,470 647.5,476.2 660,475 675,476.2 690,475.5 701.2,473.8"/>
</g>
<rect x="100.5" y="82.5" width="620" height="396" fill="none" stroke="#000" stroke-width="1.25"/>
<rect x="100.5" y="498.5" width="154.5" height="20" fill="#fee2d5"/>
<rect x="255.0" y="498.5" width="155.0" height="20" fill="#fc9879"/>
<rect x="410.0" y="498.5" width="155.0" height="20" fill="#f03f2e"/>
<rect x="565.0" y="498.5" width="155.5" height="20" fill="#a50f15"/>
<rect x="100.5" y="498.5" width="620" height="20" fill="none" stroke="#000" stroke-width="1.25"/>
<path d="M100.5,518.5v-5.5" stroke="#000" stroke-width="0.8"/>
<path d="M255.5,518.5v-5.5" stroke="#000" stroke-width="0.8"/>
<path d="M410.5,518.5v-5.5" stroke="#000" stroke-width="0.8"/>
<path d="M565.5,518.5v-5.5" stroke="#000" stroke-width="0.8"/>
<path d="M720.5,518.5v-5.5" stroke="#000" stroke-width="0.8"/>
<g font-family="'DejaVu Sans','Liberation Sans',sans-serif" fill="#000" text-anchor="middle">
<text x="410" y="75.3" font-size="20">Day 226, 32 events</text>
<text x="100" y="535" font-size="16.67">0.1</text>
<text x="255" y="535" font-size="16.67">1.0</text>
<text x="410" y="535" font-size="16.67">2.0</text>
<text x="565" y="535" font-size="16.67">3.0</text>
<text x="720" y="535" font-size="16.67">4.0</text>
<text x="410" y="556.6" font-size="16.67">N Events</text>
</g>
</svg>
</body></html>
